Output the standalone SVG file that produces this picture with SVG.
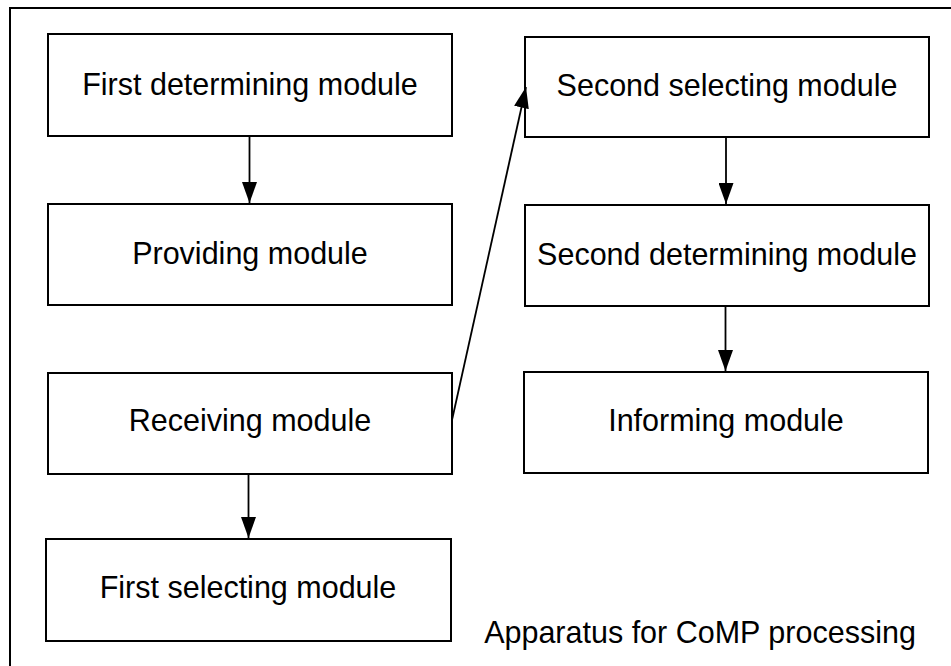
<svg xmlns="http://www.w3.org/2000/svg" width="951" height="666" viewBox="0 0 951 666">
<style>
.box{fill:#fff;stroke:#000;stroke-width:2}
.lbl{font-family:"Liberation Sans",Arial,sans-serif;font-size:30.5px;fill:#000;text-anchor:middle}
.conn{stroke:#000;stroke-width:1.8;fill:none}
</style>
<defs>
<marker id="ah" markerUnits="userSpaceOnUse" markerWidth="21" markerHeight="15" refX="21" refY="7.5" orient="auto">
<path d="M0,0 L21,7.5 L0,15 z" fill="#000"/>
</marker>
</defs>
<rect width="951" height="666" fill="#fff"/>
<g id="frame">
<path d="M10,666 L10,8 L951,8" fill="none" stroke="#000" stroke-width="2"/>
<text class="lbl" x="700" y="643">Apparatus for CoMP processing</text>
</g>
<g id="n1"><rect class="box" x="48" y="34" width="404" height="102"/><text class="lbl" x="250" y="95">First determining module</text></g>
<g id="n2"><rect class="box" x="48" y="204" width="404" height="101"/><text class="lbl" x="250" y="264">Providing module</text></g>
<g id="n3"><rect class="box" x="48" y="373" width="404" height="101"/><text class="lbl" x="250" y="431">Receiving module</text></g>
<g id="n4"><rect class="box" x="46" y="539" width="405" height="102"/><text class="lbl" x="248" y="598">First selecting module</text></g>
<g id="n5"><rect class="box" x="525" y="37" width="404" height="100"/><text class="lbl" x="727" y="96">Second selecting module</text></g>
<g id="n6"><rect class="box" x="525" y="205" width="404" height="101"/><text class="lbl" x="727" y="265">Second determining module</text></g>
<g id="n7"><rect class="box" x="524" y="372" width="404" height="101"/><text class="lbl" x="726" y="431">Informing module</text></g>
<g id="connectors">
<line class="conn" x1="249.5" y1="136" x2="249.5" y2="203" marker-end="url(#ah)"/>
<line class="conn" x1="248.5" y1="474" x2="248.5" y2="538" marker-end="url(#ah)"/>
<line class="conn" x1="726" y1="137" x2="726" y2="204" marker-end="url(#ah)"/>
<line class="conn" x1="725.5" y1="306" x2="725.5" y2="371" marker-end="url(#ah)"/>
<line class="conn" x1="452" y1="420" x2="526" y2="87" marker-end="url(#ah)"/>
</g>
</svg>
